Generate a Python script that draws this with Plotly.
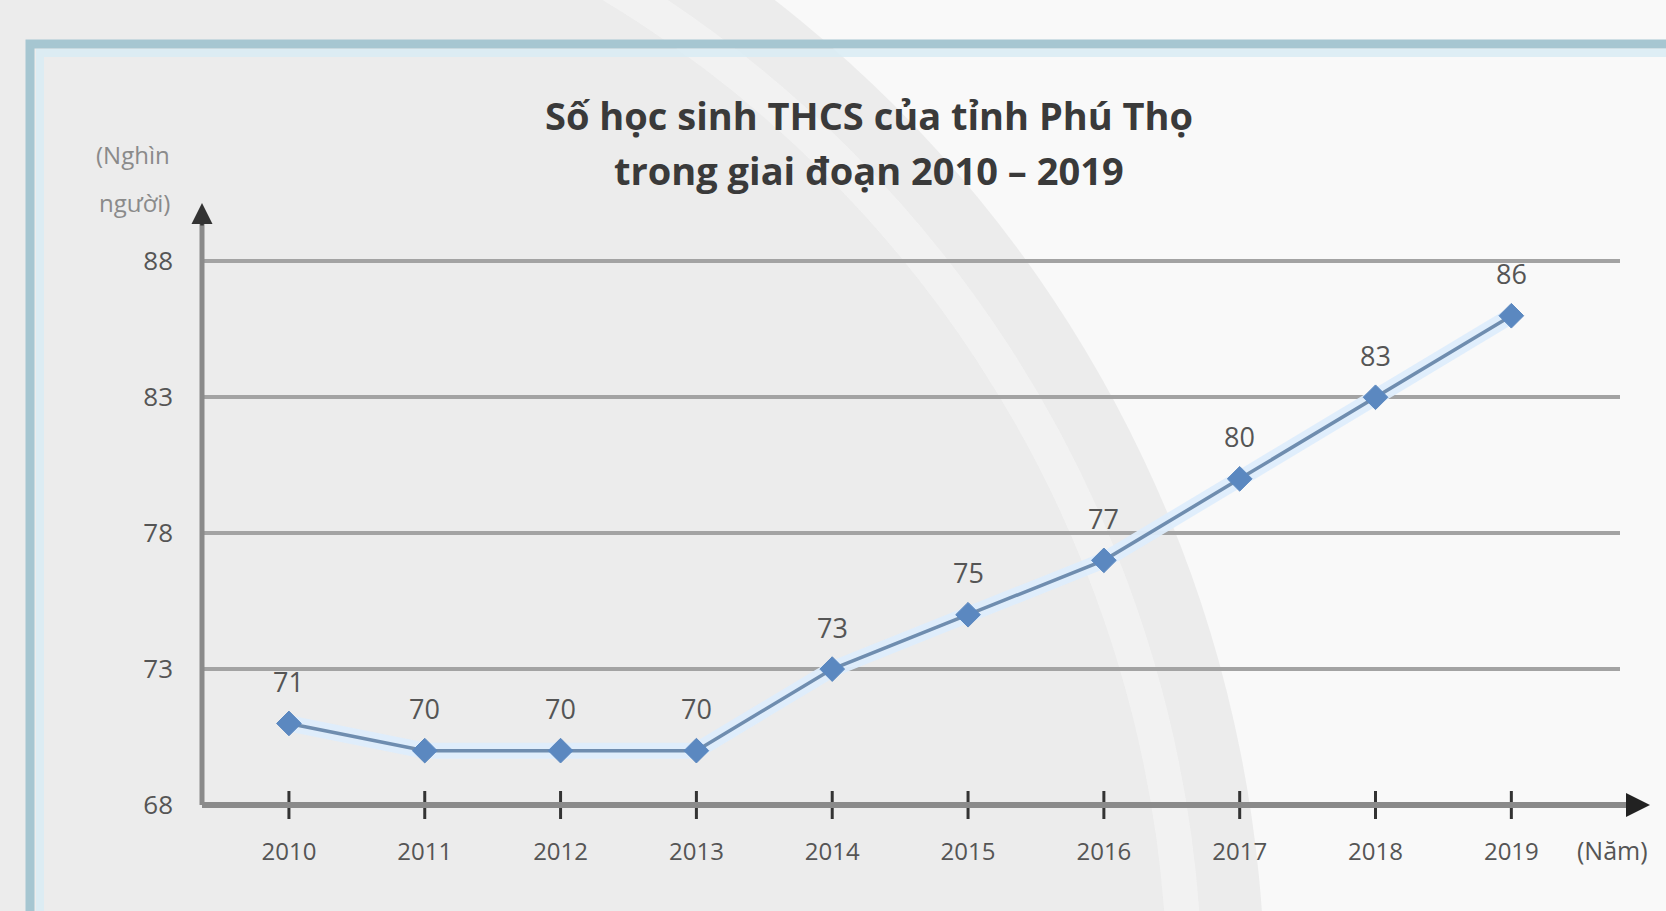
import plotly.graph_objects as go

# Student counts (thousand people), lower secondary schools, Phu Tho province
years = [2010, 2011, 2012, 2013, 2014, 2015, 2016, 2017, 2018, 2019]
students = [71, 70, 70, 70, 73, 75, 77, 80, 83, 86]
y_ticks = [68, 73, 78, 83, 88]

W, H = 1666, 911
X_RANGE = [2009.36, 2019.8]
Y_RANGE = [68, 90]
TEXT = "#555555"
FONT = "Open Sans"


def px(x):
    return x / W


def py(y):
    return 1 - y / H


fig = go.Figure()

# soft glow under the line
fig.add_trace(go.Scatter(
    x=years, y=students, mode="lines",
    line=dict(color="rgba(222,237,252,0.95)", width=16),
    hoverinfo="skip", showlegend=False,
))
# main line with diamond markers
fig.add_trace(go.Scatter(
    x=years, y=students, mode="lines+markers",
    line=dict(color="#6f8daf", width=3.5),
    marker=dict(symbol="diamond", size=19, color="#5b88c0",
                line=dict(color="#5b88c0", width=1)),
    showlegend=False,
))
# tick marks crossing the horizontal axis
fig.add_trace(go.Scatter(
    x=years, y=[Y_RANGE[0]] * len(years), mode="markers",
    marker=dict(symbol="line-ns", size=20, line=dict(color="#333333", width=3)),
    cliponaxis=False, hoverinfo="skip", showlegend=False,
))

# value labels above the points
for yr, v in zip(years, students):
    fig.add_annotation(x=yr, y=v, text=str(v), showarrow=False, yshift=42,
                       font=dict(family=FONT, size=27, color=TEXT))

# axis lines (paper coordinates so they can run past the plot area)
fig.add_shape(type="line", xref="paper", yref="paper", x0=px(202), x1=px(202),
              y0=py(805), y1=py(215), line=dict(color="#8a8a8a", width=5))
fig.add_shape(type="line", xref="paper", yref="paper", x0=px(202), x1=px(1640),
              y0=py(805), y1=py(805), line=dict(color="#8a8a8a", width=6))
# arrowheads
fig.add_annotation(x=px(202), y=py(203), xref="paper", yref="paper", ax=0, ay=24,
                   text="", showarrow=True, arrowhead=2, arrowsize=1.2,
                   arrowwidth=3.5, arrowcolor="#333333")
fig.add_annotation(x=px(1650), y=py(805), xref="paper", yref="paper", ax=-24, ay=0,
                   text="", showarrow=True, arrowhead=2, arrowsize=1.2,
                   arrowwidth=4, arrowcolor="#222222")

# title, two lines
title_lines = ["Số học sinh THCS của tỉnh Phú Thọ", "trong giai đoạn 2010 – 2019"]
for line, ypx in zip(title_lines, [115, 170]):
    fig.add_annotation(x=px(869), y=py(ypx), xref="paper", yref="paper",
                       xanchor="center", yanchor="middle",
                       text=f"<b>{line}</b>", showarrow=False,
                       font=dict(family=FONT, size=38, color="#3a3a3a"))
# unit labels
for line, ypx in zip(["(Nghìn", "người)"], [154, 202]):
    fig.add_annotation(x=px(172), y=py(ypx), xref="paper", yref="paper",
                       xanchor="right", yanchor="middle", text=line,
                       showarrow=False,
                       font=dict(family=FONT, size=24, color="#8a8a8a"))
fig.add_annotation(x=px(1612), y=py(850), xref="paper", yref="paper",
                   xanchor="center", yanchor="middle",
                   text="(Năm)", showarrow=False,
                   font=dict(family=FONT, size=25, color=TEXT))

# background watermark arcs and frame
shapes = [
    dict(type="circle", xref="paper", yref="paper",
         x0=-1265 / W, x1=1265 / W, y0=1 - (1000 + 1265) / H, y1=1 - (1000 - 1265) / H,
         fillcolor="#ececec", line=dict(width=0), layer="below"),
    dict(type="circle", xref="paper", yref="paper",
         x0=-1185 / W, x1=1185 / W, y0=1 - (1000 + 1185) / H, y1=1 - (1000 - 1185) / H,
         fillcolor="rgba(0,0,0,0)", line=dict(color="rgba(246,246,246,0.6)", width=35),
         layer="below"),
    dict(type="rect", xref="paper", yref="paper",
         x0=px(40), x1=1.02, y0=-0.02, y1=py(53),
         fillcolor="rgba(0,0,0,0)", line=dict(color="rgba(218,236,244,0.9)", width=8),
         layer="below"),
    dict(type="rect", xref="paper", yref="paper",
         x0=px(30), x1=1.02, y0=-0.02, y1=py(44),
         fillcolor="rgba(0,0,0,0)", line=dict(color="#a6c6d1", width=9), layer="below"),
]
for s in shapes:
    fig.add_shape(**s)

fig.update_layout(
    width=W, height=H,
    margin=dict(l=0, r=0, t=0, b=0, autoexpand=False),
    paper_bgcolor="#f9f9f9",
    plot_bgcolor="rgba(0,0,0,0)",
    xaxis=dict(
        domain=[px(202), px(1620)], range=X_RANGE,
        tickmode="array", tickvals=years, ticktext=[str(y) for y in years],
        showgrid=False, zeroline=False, showline=False, ticks="",
        ticklabelstandoff=30,
        tickfont=dict(family=FONT, size=24, color=TEXT),
    ),
    yaxis=dict(
        domain=[py(805), py(207)], range=Y_RANGE,
        tickmode="array", tickvals=y_ticks,
        showgrid=True, gridcolor="#a3a3a3", gridwidth=3.5,
        zeroline=False, showline=False, ticks="",
        ticklabelstandoff=28,
        tickfont=dict(family=FONT, size=26, color=TEXT),
    ),
    hovermode=False,
)

fig.write_html("out.html")
